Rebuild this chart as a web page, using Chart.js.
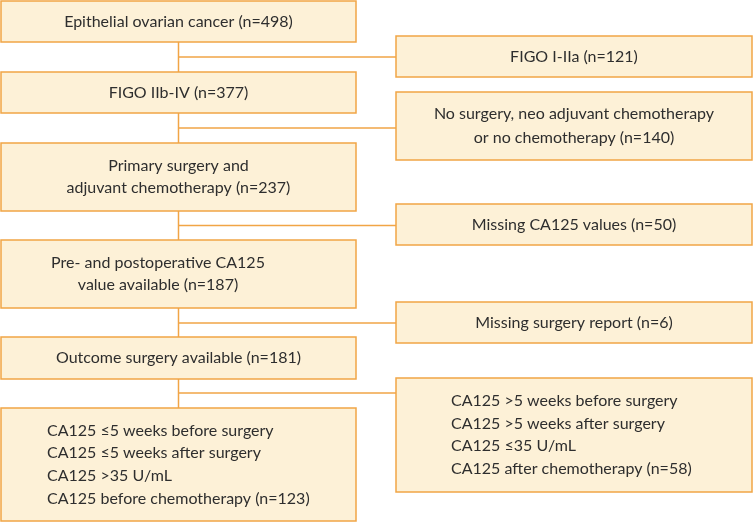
<!DOCTYPE html>
<html>
<head>
<meta charset="utf-8">
<script src="https://cdn.jsdelivr.net/npm/chart.js@4.4.1/dist/chart.umd.min.js"></script>
<style>
  html, body { margin: 0; padding: 0; background: #ffffff; }
  #wrap { width: 753px; height: 522px; }
</style>
</head>
<body>
<div id="wrap"><canvas id="c" width="753" height="522"></canvas></div>
<script>
// ---- Data: flowchart steps (text) and patient counts ----
const mainSteps = [
  ["Epithelial ovarian cancer (n=498)"],
  ["FIGO IIb-IV (n=377)"],
  ["Primary surgery and", "adjuvant chemotherapy (n=237)"],
  ["Pre- and postoperative CA125", "value available (n=187)"],
  ["Outcome surgery available (n=181)"],
  ["CA125 \u22645 weeks before surgery", "CA125 \u22645 weeks after surgery", "CA125 >35 U/mL", "CA125 before chemotherapy (n=123)"]
];
const sideSteps = [
  ["FIGO I-IIa (n=121)"],
  ["No surgery, neo adjuvant chemotherapy", "or no chemotherapy (n=140)"],
  ["Missing CA125 values (n=50)"],
  ["Missing surgery report (n=6)"],
  ["CA125 >5 weeks before surgery", "CA125 >5 weeks after surgery", "CA125 \u226435 U/mL", "CA125 after chemotherapy (n=58)"]
];
const mainCounts = [498, 377, 237, 187, 181, 123];
const sideCounts = [121, 140, 50, 6, 58];

// ---- Layout (positions in the flowchart's coordinate space) ----
const layout = {
  mainX: [1, 356],
  sideX: [396, 752],
  trunkX: 178.5,
  mainY: [[1, 42], [72, 113], [143, 211], [240, 308], [337, 379], [408, 521]],
  sideY: [[36, 77], [92, 160], [204, 245], [302, 343], [378, 492]],
  branchY: [57, 128, 225.5, 323, 393],
  mainTextX: [null, null, null, 158, null, 47],
  sideTextX: [null, null, null, null, 451],
  lineGap: [22, 22, 22, 22, 22, 22.7],
  sideLineGap: [22, 24, 22, 22, 22.5]
};
const style = {
  fill: '#fdf1d7',
  border: '#f1a546',
  line: '#f1a546',
  text: '#2e2e2e',
  font: '16px Lato'
};

// connector segments as datasets
const datasets = [];
for (let i = 0; i < sideSteps.length; i++) {
  datasets.push({
    data: [{x: layout.trunkX, y: layout.mainY[i][1]}, {x: layout.trunkX, y: layout.mainY[i + 1][0]}],
    showLine: true, borderColor: style.line, borderWidth: 1.5, pointRadius: 0, fill: false
  });
  datasets.push({
    data: [{x: layout.trunkX, y: layout.branchY[i]}, {x: layout.sideX[0], y: layout.branchY[i]}],
    showLine: true, borderColor: style.line, borderWidth: 1.5, pointRadius: 0, fill: false
  });
}

const boxPlugin = {
  id: 'boxes',
  afterDatasetsDraw(chart) {
    const ctx = chart.ctx;
    const xs = chart.scales.x, ys = chart.scales.y;
    function drawBox(xr, yr, lines, textX, gap) {
      const x0 = xs.getPixelForValue(xr[0]), x1 = xs.getPixelForValue(xr[1]);
      const y0 = ys.getPixelForValue(yr[0]), y1 = ys.getPixelForValue(yr[1]);
      ctx.save();
      ctx.fillStyle = style.fill;
      ctx.fillRect(x0, y0, x1 - x0, y1 - y0);
      ctx.strokeStyle = style.border;
      ctx.lineWidth = 1.5;
      ctx.strokeRect(x0, y0, x1 - x0, y1 - y0);
      ctx.fillStyle = style.text;
      ctx.font = style.font;
      ctx.textBaseline = 'middle';
      let tx;
      if (textX == null) { ctx.textAlign = 'center'; tx = (x0 + x1) / 2; }
      else if (lines.length > 2) { ctx.textAlign = 'left'; tx = xs.getPixelForValue(textX); }
      else { ctx.textAlign = 'center'; tx = xs.getPixelForValue(textX); }
      const cy = (y0 + y1) / 2;
      const n = lines.length;
      lines.forEach((t, k) => {
        ctx.fillText(t, tx, cy + (k - (n - 1) / 2) * gap);
      });
      ctx.restore();
    }
    mainSteps.forEach((lines, i) => drawBox(layout.mainX, layout.mainY[i], lines, layout.mainTextX[i], layout.lineGap[i]));
    sideSteps.forEach((lines, i) => drawBox(layout.sideX, layout.sideY[i], lines, layout.sideTextX[i], layout.sideLineGap[i]));
  }
};

new Chart(document.getElementById('c'), {
  type: 'scatter',
  data: { datasets },
  options: {
    responsive: false,
    animation: false,
    layout: { padding: 0 },
    plugins: { legend: { display: false }, tooltip: { enabled: false } },
    scales: {
      x: { type: 'linear', min: 0, max: 753, display: false },
      y: { type: 'linear', min: 0, max: 522, reverse: true, display: false }
    }
  },
  plugins: [boxPlugin]
});
</script>
</body>
</html>
